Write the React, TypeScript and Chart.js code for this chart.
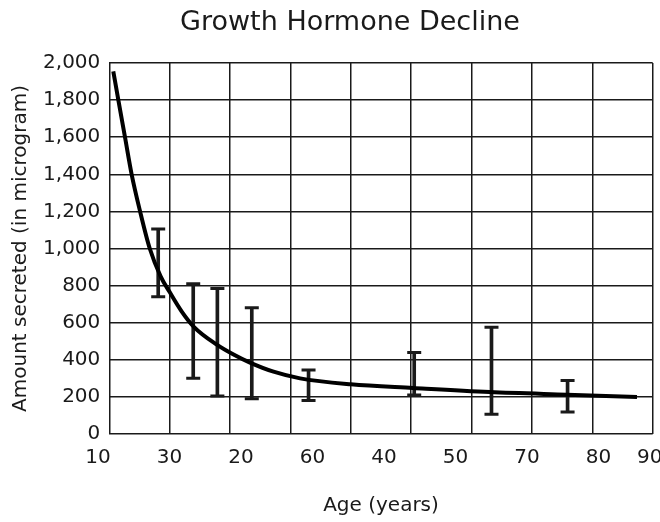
import React, { useEffect, useRef } from 'react';
import { Chart, registerables } from 'chart.js';

Chart.register(...registerables);

const chartTitle = 'Growth Hormone Decline';
const yAxisTitle = 'Amount secreted (in microgram)';
const xAxisTitle = 'Age (years)';
const xTickLabels = ['10', '30', '20', '60', '40', '50', '70', '80', '90'];
const yMin = 0;
const yMax = 2000;
const yStep = 200;
const gridColumns = 9;

// fitted decline curve (x measured in grid columns from the left edge)
const curveX = [0.066, 0.15, 0.26, 0.37, 0.51, 0.67, 0.85, 1.0, 1.2, 1.4, 1.78, 2.05, 2.33, 2.72, 3.16, 4.0, 5.03, 6.3, 7.58, 8.74];
const curveY = [1955, 1800, 1600, 1400, 1200, 1000, 850, 765, 660, 578, 482, 430, 385, 336, 300, 268, 248, 226, 212, 200];

// error bars
const errX = [0.81, 1.39, 1.79, 2.36, 3.3, 5.05, 6.33, 7.59];
const errLow = [740, 300, 205, 190, 180, 210, 106, 118];
const errHigh = [1105, 810, 785, 680, 345, 440, 576, 289];

export default function App() {
  const ref = useRef<HTMLCanvasElement>(null);

  useEffect(() => {
    const canvas = ref.current;
    if (!canvas) return;
    Chart.defaults.font.family = "'DejaVu Sans', sans-serif";
    const ink = '#1a1a1a';
    const labelMin = 0.158;
    const labelMax = 7.758;

    const chart = new Chart(canvas, {
      type: 'line',
      data: {
        datasets: [
          {
            type: 'line',
            label: 'Trend',
            data: curveX.map((x, i) => ({ x, y: curveY[i] })),
            borderColor: '#000',
            borderWidth: 4,
            pointRadius: 0,
            tension: 0.4,
            cubicInterpolationMode: 'monotone',
            fill: false,
          },
          {
            type: 'bar',
            label: 'Range',
            data: errX.map((x, i) => ({ x, y: [errLow[i], errHigh[i]] })),
            backgroundColor: ink,
            borderWidth: 0,
            barThickness: 3,
          },
          {
            type: 'line',
            label: 'Caps',
            data: [
              ...errX.map((x, i) => ({ x, y: errHigh[i] })),
              ...errX.map((x, i) => ({ x, y: errLow[i] })),
            ],
            showLine: false,
            pointStyle: 'line',
            pointRadius: 7,
            pointBorderWidth: 3,
            pointBorderColor: ink,
            borderColor: ink,
          },
        ] as any,
      },
      options: {
        responsive: false,
        animation: false,
        devicePixelRatio: 1,
        layout: { autoPadding: false, padding: { left: 0, right: -40, top: 0, bottom: 0 } },
        plugins: {
          legend: { display: false },
          tooltip: { enabled: false },
          title: {
            display: true,
            text: chartTitle,
            color: ink,
            font: { size: 27, weight: 'normal' },
            padding: { top: 7, bottom: 23.6 },
          },
        },
        scales: {
          x: {
            type: 'linear',
            min: 0,
            max: gridColumns,
            offset: false,
            border: { display: false },
            grid: { color: ink, lineWidth: 1.5, drawTicks: false, offset: false },
            ticks: { display: false, stepSize: 1 },
          },
          xl: {
            type: 'linear',
            axis: 'x',
            position: 'bottom',
            min: labelMin,
            max: labelMax,
            offset: false,
            border: { display: false },
            grid: { display: false, drawTicks: false, offset: false },
            ticks: {
              autoSkip: false,
              maxRotation: 0,
              minRotation: 0,
              padding: 12,
              color: ink,
              font: { size: 20 },
              callback: (_v: any, i: number) => xTickLabels[i],
            },
            afterBuildTicks: (s: any) => {
              s.ticks = xTickLabels.map((_, i) => ({
                value: i < xTickLabels.length - 1 ? i : labelMax - 0.04,
              }));
            },
            afterFit: (s: any) => {
              s.paddingLeft = 0;
              s.paddingRight = 7.3;
            },
            title: {
              display: true,
              text: xAxisTitle,
              color: ink,
              font: { size: 20 },
              padding: { top: 12, bottom: 4 },
            },
          },
          y: {
            type: 'linear',
            min: yMin,
            max: yMax,
            border: { display: false },
            grid: { color: ink, lineWidth: 1.5, drawTicks: false },
            ticks: {
              stepSize: yStep,
              padding: 9,
              color: ink,
              font: { size: 20 },
              callback: (v: any) => Number(v).toLocaleString('en-US'),
            },
            title: {
              display: true,
              text: yAxisTitle,
              color: ink,
              font: { size: 20 },
              padding: { top: 9, bottom: 0 },
            },
            afterFit: (s: any) => {
              s.width = 109.3;
            },
          },
        } as any,
      },
    });
    return () => chart.destroy();
  }, []);

  return (
    <div style={{ position: 'fixed', left: 0, top: 0, width: 660, height: 522, background: '#fff' }}>
      <canvas ref={ref} width={660} height={522} style={{ display: 'block' }} />
    </div>
  );
}
